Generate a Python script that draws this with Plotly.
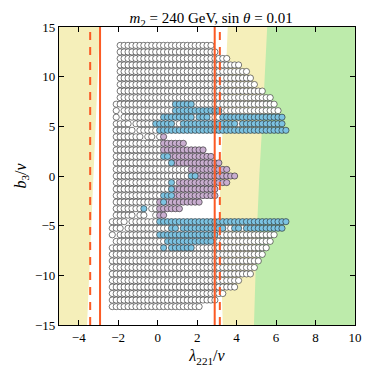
import plotly.graph_objects as go

# scan grid (lambda_221/v columns, b_3/v rows)
x_grid = [-2.3, -2.1, -1.9, -1.7, -1.5, -1.3, -1.1, -0.9, -0.7, -0.5, -0.3, -0.1,
          0.1, 0.3, 0.5, 0.7, 0.9, 1.1, 1.3, 1.5, 1.7, 1.9, 2.1, 2.3, 2.5, 2.7,
          2.9, 3.1, 3.3, 3.5, 3.7, 3.9, 4.1, 4.3, 4.5, 4.7, 4.9, 5.1, 5.3, 5.5,
          5.7, 5.9, 6.1, 6.3, 6.5]
y_grid = [13.15, 12.49, 11.83, 11.18, 10.52, 9.86, 9.21, 8.55, 7.89, 7.23, 6.58,
          5.92, 5.26, 4.6, 3.95, 3.29, 2.63, 1.97, 1.32, 0.66, 0.0, -0.66, -1.32,
          -1.97, -2.63, -3.29, -3.95, -4.6, -5.26, -5.92, -6.58, -7.23, -7.89,
          -8.55, -9.21, -9.86, -10.52, -11.18, -11.83, -12.49, -13.15]

# per row: (first column, last column, class)  o=allowed, b=blue, p=purple
row_cells = [
    [(2, 25, "o")],
    [(2, 26, "o")],
    [(2, 29, "o")],
    [(2, 32, "o")],
    [(2, 34, "o")],
    [(2, 35, "o")],
    [(2, 36, "o")],
    [(2, 38, "o")],
    [(2, 40, "o")],
    [(1, 15, "o"), (16, 20, "b"), (21, 41, "o")],
    [(1, 1, "o"), (3, 15, "o"), (16, 27, "b"), (28, 42, "o")],
    [(1, 1, "o"), (3, 12, "o"), (13, 20, "b"), (21, 21, "o"), (22, 24, "b"), (25, 27, "o"), (28, 43, "b")],
    [(1, 4, "o"), (6, 10, "o"), (11, 15, "b"), (16, 17, "o"), (18, 31, "b"), (32, 32, "o"), (33, 43, "b")],
    [(1, 5, "o"), (7, 11, "o"), (12, 44, "b")],
    [(1, 7, "o"), (9, 10, "o"), (12, 12, "o"), (13, 13, "p")],
    [(1, 12, "o"), (13, 18, "p")],
    [(1, 12, "o"), (13, 23, "p")],
    [(1, 12, "o"), (13, 14, "b"), (15, 25, "p")],
    [(1, 14, "o"), (15, 15, "b"), (16, 27, "p")],
    [(1, 19, "o"), (20, 29, "p")],
    [(1, 19, "o"), (20, 21, "b"), (22, 31, "p")],
    [(1, 14, "o"), (15, 15, "b"), (16, 16, "o"), (17, 29, "p")],
    [(1, 14, "o"), (15, 15, "b"), (16, 26, "p")],
    [(1, 12, "o"), (13, 15, "b"), (16, 26, "p")],
    [(1, 11, "o"), (12, 12, "p"), (13, 13, "b"), (14, 22, "p")],
    [(1, 7, "o"), (8, 8, "b"), (10, 11, "o"), (12, 17, "p")],
    [(1, 5, "o"), (7, 8, "o"), (11, 11, "o"), (12, 13, "p")],
    [(0, 3, "o"), (5, 11, "o"), (12, 44, "b")],
    [(0, 2, "o"), (4, 14, "o"), (15, 16, "b"), (17, 17, "o"), (18, 28, "b"), (29, 30, "o"),
     (31, 32, "b"), (33, 33, "o"), (34, 43, "b")],
    [(0, 0, "o"), (2, 11, "o"), (12, 26, "b"), (27, 41, "o")],
    [(1, 13, "o"), (14, 25, "b"), (26, 40, "o")],
    [(0, 12, "o"), (13, 13, "b"), (14, 14, "o"), (15, 20, "b"), (21, 39, "o")],
    [(0, 38, "o")],
    [(0, 37, "o")],
    [(0, 36, "o")],
    [(0, 35, "o")],
    [(0, 32, "o")],
    [(0, 31, "o")],
    [(0, 28, "o")],
    [(0, 26, "o")],
    [(0, 22, "o")],
]

# excluded / constrained regions
left_band_x = [-5, -3.58, -2.93, -5]
left_band_y = [-15, -15, 15, 15]
right_band_x = [3.3, 3.2, 3.15, 3.18, 3.3, 3.45, 3.55, 10, 10]
right_band_y = [-15, -8, -3, 0, 5, 10, 15, 15, -15]
green_x = [4.88, 5.0, 5.15, 5.35, 5.55, 10, 10]
green_y = [-15, -7, 0, 7, 15, 15, -15]

solid_lines = [-2.92, 2.89]
dashed_lines = [-3.42, 3.15]

YELLOW = "#f5efba"
GREEN = "#bdebab"
RED = "#fb5a24"
colors = {"o": "white", "p": "#c9aed0", "b": "#7cc3e2"}

pts = {"o": ([], []), "p": ([], []), "b": ([], [])}
for k, segs in enumerate(row_cells):
    for a, b, c in segs:
        for j in range(a, b + 1):
            pts[c][0].append(x_grid[j])
            pts[c][1].append(y_grid[k])

fig = go.Figure()
for xs, ys, col in [(left_band_x, left_band_y, YELLOW), (right_band_x, right_band_y, YELLOW),
                    (green_x, green_y, GREEN)]:
    fig.add_trace(go.Scatter(x=xs, y=ys, fill="toself", fillcolor=col, mode="none",
                             hoverinfo="skip"))

for c in ["o", "p", "b"]:
    fig.add_trace(go.Scatter(
        x=pts[c][0], y=pts[c][1], mode="markers",
        marker=dict(size=6.2, color=colors[c], line=dict(color="#222222", width=0.6)),
    ))

for xv in solid_lines:
    fig.add_trace(go.Scatter(x=[xv, xv], y=[-15, 15], mode="lines",
                             line=dict(color=RED, width=2)))
for xv in dashed_lines:
    fig.add_trace(go.Scatter(x=[xv, xv], y=[-15, 15], mode="lines",
                             line=dict(color=RED, width=2, dash="8px,7px")))

axis_common = dict(showline=True, linecolor="black", linewidth=1.3, mirror="ticks",
                   ticks="inside", ticklen=5, tickcolor="black", showgrid=False,
                   zeroline=False, tickfont=dict(size=13))
fig.update_xaxes(range=[-5, 10], tickvals=[-4, -2, 0, 2, 4, 6, 8, 10],
                 title=dict(text="<i>λ</i><sub>221</sub>/<i>v</i>", standoff=6), **axis_common)
fig.update_yaxes(range=[-15, 15], tickvals=[-15, -10, -5, 0, 5, 10, 15],
                 title=dict(text="<i>b</i><sub>3</sub>/<i>v</i>", standoff=4), **axis_common)

# page body adds an 8px offset, so the figure is drawn 8px smaller and shifted
fig.update_layout(
    width=366, height=366,
    margin=dict(l=51, r=16, t=19, b=48),
    paper_bgcolor="white", plot_bgcolor="white",
    font=dict(family="Liberation Serif", size=13, color="black"),
    showlegend=False,
    title=dict(text="<i>m</i><sub>2</sub> = 240 GeV, sin <i>θ</i> = 0.01",
               x=0.555, xanchor="center", y=0.972, yanchor="middle",
               font=dict(size=15)),
)

fig.write_html("out.html")
